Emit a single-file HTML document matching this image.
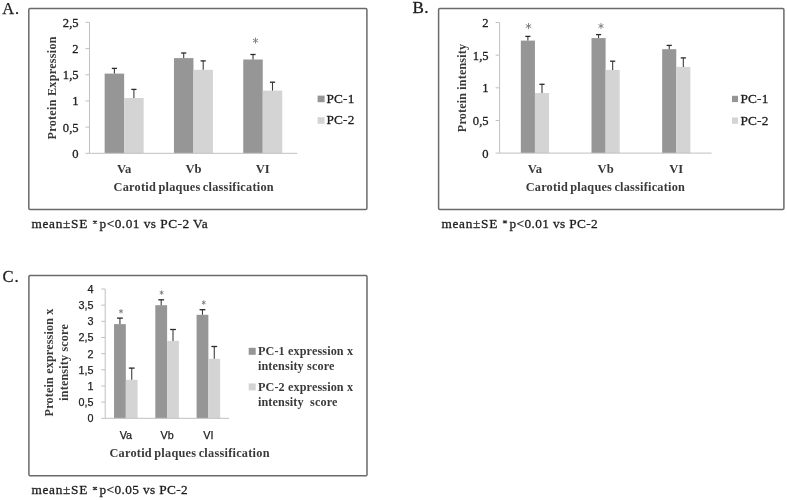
<!DOCTYPE html>
<html><head><meta charset="utf-8"><title>Figure</title>
<style>html,body{margin:0;padding:0;background:#fff;width:787px;height:500px;overflow:hidden}svg{display:block;filter:blur(0.45px)}</style>
</head><body>
<svg width="787" height="500" viewBox="0 0 787 500">
<rect width="787" height="500" fill="#fff"/>
<text x="2.2" y="13.8" font-family='"Liberation Serif", serif' font-size="16.5" text-anchor="start" fill="#1e1e1e" stroke="#1e1e1e" stroke-width="0.25" letter-spacing="0.8">A.</text>
<rect x="28.8" y="8.5" width="338.10" height="201.00" rx="1.2" fill="none" stroke="#6a6a6a" stroke-width="1.5"/>
<line x1="85.5" y1="153.30" x2="89.5" y2="153.30" stroke="#c0c0c0" stroke-width="1"/>
<line x1="85.5" y1="127.12" x2="89.5" y2="127.12" stroke="#c0c0c0" stroke-width="1"/>
<line x1="85.5" y1="100.94" x2="89.5" y2="100.94" stroke="#c0c0c0" stroke-width="1"/>
<line x1="85.5" y1="74.76" x2="89.5" y2="74.76" stroke="#c0c0c0" stroke-width="1"/>
<line x1="85.5" y1="48.58" x2="89.5" y2="48.58" stroke="#c0c0c0" stroke-width="1"/>
<line x1="85.5" y1="22.40" x2="89.5" y2="22.40" stroke="#c0c0c0" stroke-width="1"/>
<rect x="104.65" y="73.60" width="19.50" height="79.70" fill="#969696"/>
<line x1="114.40" y1="73.60" x2="114.40" y2="68.40" stroke="#3c3c3c" stroke-width="1.1"/>
<line x1="111.80" y1="68.40" x2="117.00" y2="68.40" stroke="#2a2a2a" stroke-width="1.3"/>
<rect x="124.15" y="98.00" width="19.50" height="55.30" fill="#d4d4d4"/>
<line x1="133.90" y1="98.00" x2="133.90" y2="89.40" stroke="#3c3c3c" stroke-width="1.1"/>
<line x1="131.30" y1="89.40" x2="136.50" y2="89.40" stroke="#2a2a2a" stroke-width="1.3"/>
<rect x="173.95" y="58.10" width="19.50" height="95.20" fill="#969696"/>
<line x1="183.70" y1="58.10" x2="183.70" y2="53.00" stroke="#3c3c3c" stroke-width="1.1"/>
<line x1="181.10" y1="53.00" x2="186.30" y2="53.00" stroke="#2a2a2a" stroke-width="1.3"/>
<rect x="193.45" y="69.80" width="19.50" height="83.50" fill="#d4d4d4"/>
<line x1="203.20" y1="69.80" x2="203.20" y2="60.90" stroke="#3c3c3c" stroke-width="1.1"/>
<line x1="200.60" y1="60.90" x2="205.80" y2="60.90" stroke="#2a2a2a" stroke-width="1.3"/>
<rect x="243.25" y="59.50" width="19.50" height="93.80" fill="#969696"/>
<line x1="253.00" y1="59.50" x2="253.00" y2="54.50" stroke="#3c3c3c" stroke-width="1.1"/>
<line x1="250.40" y1="54.50" x2="255.60" y2="54.50" stroke="#2a2a2a" stroke-width="1.3"/>
<rect x="262.75" y="90.60" width="19.50" height="62.70" fill="#d4d4d4"/>
<line x1="272.50" y1="90.60" x2="272.50" y2="82.20" stroke="#3c3c3c" stroke-width="1.1"/>
<line x1="269.90" y1="82.20" x2="275.10" y2="82.20" stroke="#2a2a2a" stroke-width="1.3"/>
<line x1="89.5" y1="22.40" x2="89.5" y2="153.30" stroke="#c0c0c0" stroke-width="1"/>
<line x1="89.5" y1="153.30" x2="297.4" y2="153.30" stroke="#c0c0c0" stroke-width="1"/>
<path d="M255.50,43.20L255.50,38.00M253.25,41.90L257.75,39.30M253.25,39.30L257.75,41.90" stroke="#7a7a7a" stroke-width="0.9" stroke-linecap="round" fill="none"/>
<text x="78.6" y="157.8" font-family='"Liberation Serif", serif' font-size="12.6" text-anchor="end" fill="#1e1e1e" stroke="#1e1e1e" stroke-width="0.3">0</text>
<text x="78.6" y="131.62" font-family='"Liberation Serif", serif' font-size="12.6" text-anchor="end" fill="#1e1e1e" stroke="#1e1e1e" stroke-width="0.3">0,5</text>
<text x="78.6" y="105.44000000000001" font-family='"Liberation Serif", serif' font-size="12.6" text-anchor="end" fill="#1e1e1e" stroke="#1e1e1e" stroke-width="0.3">1</text>
<text x="78.6" y="79.26000000000002" font-family='"Liberation Serif", serif' font-size="12.6" text-anchor="end" fill="#1e1e1e" stroke="#1e1e1e" stroke-width="0.3">1,5</text>
<text x="78.6" y="53.08000000000001" font-family='"Liberation Serif", serif' font-size="12.6" text-anchor="end" fill="#1e1e1e" stroke="#1e1e1e" stroke-width="0.3">2</text>
<text x="78.6" y="26.900000000000006" font-family='"Liberation Serif", serif' font-size="12.6" text-anchor="end" fill="#1e1e1e" stroke="#1e1e1e" stroke-width="0.3">2,5</text>
<text x="124.15" y="172.5" font-family='"Liberation Serif", serif' font-size="12.6" text-anchor="middle" fill="#383838" font-weight="bold">Va</text>
<text x="193.45" y="172.5" font-family='"Liberation Serif", serif' font-size="12.6" text-anchor="middle" fill="#383838" font-weight="bold">Vb</text>
<text x="262.75" y="172.5" font-family='"Liberation Serif", serif' font-size="12.6" text-anchor="middle" fill="#383838" font-weight="bold">VI</text>
<text x="193.75" y="190.7" font-family='"Liberation Serif", serif' font-size="12.3" text-anchor="middle" fill="#3a3a3a" letter-spacing="0.25" word-spacing="-1" font-weight="bold">Carotid plaques classification</text>
<text transform="translate(55.9,87.8) rotate(-90)" font-family='"Liberation Serif", serif' font-size="12.2" text-anchor="middle" fill="#3a3a3a" letter-spacing="0.25" font-weight="bold">Protein Expression</text>
<rect x="317.6" y="95.6" width="7" height="6.6" fill="#969696"/>
<rect x="317.6" y="117.2" width="7" height="6.6" fill="#d4d4d4"/>
<text x="326.5" y="102.6" font-family='"Liberation Serif", serif' font-size="13.3" text-anchor="start" fill="#1e1e1e" stroke="#1e1e1e" stroke-width="0.3" letter-spacing="0.15">PC-1</text>
<text x="326.5" y="124.4" font-family='"Liberation Serif", serif' font-size="13.3" text-anchor="start" fill="#1e1e1e" stroke="#1e1e1e" stroke-width="0.3" letter-spacing="0.15">PC-2</text>
<text x="31.4" y="228.1" font-family='"Liberation Serif", serif' font-size="13.3" text-anchor="start" fill="#1e1e1e" stroke="#1e1e1e" stroke-width="0.3" letter-spacing="0.72">mean±SE</text>
<path d="M92.85,221.00L97.05,223.40M92.85,223.40L97.05,221.00M94.95,220.50L94.95,223.90" stroke="#2a2a2a" stroke-width="1.05" fill="none"/>
<text x="99.6" y="228.1" font-family='"Liberation Serif", serif' font-size="13.3" text-anchor="start" fill="#1e1e1e" stroke="#1e1e1e" stroke-width="0.3" letter-spacing="0.48">p&lt;0.01 vs PC-2 Va</text>
<text x="412.6" y="13.3" font-family='"Liberation Serif", serif' font-size="17" text-anchor="start" fill="#1e1e1e" stroke="#1e1e1e" stroke-width="0.35" letter-spacing="0.2">B.</text>
<rect x="438.6" y="8.5" width="345.30" height="201.00" rx="1.2" fill="none" stroke="#6a6a6a" stroke-width="1.5"/>
<line x1="495.6" y1="153.10" x2="499.6" y2="153.10" stroke="#c0c0c0" stroke-width="1"/>
<line x1="495.6" y1="120.45" x2="499.6" y2="120.45" stroke="#c0c0c0" stroke-width="1"/>
<line x1="495.6" y1="87.80" x2="499.6" y2="87.80" stroke="#c0c0c0" stroke-width="1"/>
<line x1="495.6" y1="55.15" x2="499.6" y2="55.15" stroke="#c0c0c0" stroke-width="1"/>
<line x1="495.6" y1="22.50" x2="499.6" y2="22.50" stroke="#c0c0c0" stroke-width="1"/>
<rect x="520.83" y="40.60" width="14.10" height="112.50" fill="#969696"/>
<line x1="527.88" y1="40.60" x2="527.88" y2="36.40" stroke="#3c3c3c" stroke-width="1.1"/>
<line x1="525.28" y1="36.40" x2="530.48" y2="36.40" stroke="#2a2a2a" stroke-width="1.3"/>
<rect x="534.93" y="93.00" width="14.10" height="60.10" fill="#d4d4d4"/>
<line x1="541.98" y1="93.00" x2="541.98" y2="84.30" stroke="#3c3c3c" stroke-width="1.1"/>
<line x1="539.38" y1="84.30" x2="544.58" y2="84.30" stroke="#2a2a2a" stroke-width="1.3"/>
<rect x="591.50" y="38.10" width="14.10" height="115.00" fill="#969696"/>
<line x1="598.55" y1="38.10" x2="598.55" y2="34.60" stroke="#3c3c3c" stroke-width="1.1"/>
<line x1="595.95" y1="34.60" x2="601.15" y2="34.60" stroke="#2a2a2a" stroke-width="1.3"/>
<rect x="605.60" y="69.90" width="14.10" height="83.20" fill="#d4d4d4"/>
<line x1="612.65" y1="69.90" x2="612.65" y2="61.20" stroke="#3c3c3c" stroke-width="1.1"/>
<line x1="610.05" y1="61.20" x2="615.25" y2="61.20" stroke="#2a2a2a" stroke-width="1.3"/>
<rect x="662.17" y="49.20" width="14.10" height="103.90" fill="#969696"/>
<line x1="669.22" y1="49.20" x2="669.22" y2="45.40" stroke="#3c3c3c" stroke-width="1.1"/>
<line x1="666.62" y1="45.40" x2="671.82" y2="45.40" stroke="#2a2a2a" stroke-width="1.3"/>
<rect x="676.27" y="66.90" width="14.10" height="86.20" fill="#d4d4d4"/>
<line x1="683.32" y1="66.90" x2="683.32" y2="57.90" stroke="#3c3c3c" stroke-width="1.1"/>
<line x1="680.72" y1="57.90" x2="685.92" y2="57.90" stroke="#2a2a2a" stroke-width="1.3"/>
<line x1="499.6" y1="22.50" x2="499.6" y2="153.10" stroke="#c0c0c0" stroke-width="1"/>
<line x1="499.6" y1="153.10" x2="711.6" y2="153.10" stroke="#c0c0c0" stroke-width="1"/>
<path d="M528.50,28.80L528.50,23.40M526.16,27.45L530.84,24.75M526.16,24.75L530.84,27.45" stroke="#7a7a7a" stroke-width="0.9" stroke-linecap="round" fill="none"/>
<path d="M601.00,28.50L601.00,23.50M598.83,27.25L603.17,24.75M598.83,24.75L603.17,27.25" stroke="#7a7a7a" stroke-width="0.9" stroke-linecap="round" fill="none"/>
<text x="488.6" y="157.6" font-family='"Liberation Serif", serif' font-size="12.6" text-anchor="end" fill="#1e1e1e" stroke="#1e1e1e" stroke-width="0.3">0</text>
<text x="488.6" y="124.94999999999999" font-family='"Liberation Serif", serif' font-size="12.6" text-anchor="end" fill="#1e1e1e" stroke="#1e1e1e" stroke-width="0.3">0,5</text>
<text x="488.6" y="92.3" font-family='"Liberation Serif", serif' font-size="12.6" text-anchor="end" fill="#1e1e1e" stroke="#1e1e1e" stroke-width="0.3">1</text>
<text x="488.6" y="59.650000000000006" font-family='"Liberation Serif", serif' font-size="12.6" text-anchor="end" fill="#1e1e1e" stroke="#1e1e1e" stroke-width="0.3">1,5</text>
<text x="488.6" y="27.0" font-family='"Liberation Serif", serif' font-size="12.6" text-anchor="end" fill="#1e1e1e" stroke="#1e1e1e" stroke-width="0.3">2</text>
<text x="534.9333333333334" y="172.5" font-family='"Liberation Serif", serif' font-size="12.6" text-anchor="middle" fill="#383838" font-weight="bold">Va</text>
<text x="605.6" y="172.5" font-family='"Liberation Serif", serif' font-size="12.6" text-anchor="middle" fill="#383838" font-weight="bold">Vb</text>
<text x="676.2666666666667" y="172.5" font-family='"Liberation Serif", serif' font-size="12.6" text-anchor="middle" fill="#383838" font-weight="bold">VI</text>
<text x="605.4" y="191.2" font-family='"Liberation Serif", serif' font-size="12.3" text-anchor="middle" fill="#3a3a3a" letter-spacing="0.22" word-spacing="-1" font-weight="bold">Carotid plaques classification</text>
<text transform="translate(466,88) rotate(-90)" font-family='"Liberation Serif", serif' font-size="12.2" text-anchor="middle" fill="#3a3a3a" letter-spacing="0.13" font-weight="bold">Protein intensity</text>
<rect x="732" y="95.8" width="6" height="6.3" fill="#969696"/>
<rect x="732" y="117.5" width="6" height="6.3" fill="#d4d4d4"/>
<text x="740.5" y="102.8" font-family='"Liberation Serif", serif' font-size="13.3" text-anchor="start" fill="#1e1e1e" stroke="#1e1e1e" stroke-width="0.3" letter-spacing="0.15">PC-1</text>
<text x="740.5" y="124.5" font-family='"Liberation Serif", serif' font-size="13.3" text-anchor="start" fill="#1e1e1e" stroke="#1e1e1e" stroke-width="0.3" letter-spacing="0.15">PC-2</text>
<text x="441.4" y="227.8" font-family='"Liberation Serif", serif' font-size="13.3" text-anchor="start" fill="#1e1e1e" stroke="#1e1e1e" stroke-width="0.3" letter-spacing="0.72">mean±SE</text>
<path d="M502.85,220.70L507.05,223.10M502.85,223.10L507.05,220.70M504.95,220.20L504.95,223.60" stroke="#2a2a2a" stroke-width="1.05" fill="none"/>
<text x="509.59999999999997" y="227.8" font-family='"Liberation Serif", serif' font-size="13.3" text-anchor="start" fill="#1e1e1e" stroke="#1e1e1e" stroke-width="0.3" letter-spacing="0.37">p&lt;0.01 vs PC-2</text>
<text x="2.6" y="282.4" font-family='"Liberation Serif", serif' font-size="16.5" text-anchor="start" fill="#1e1e1e" stroke="#1e1e1e" stroke-width="0.3" letter-spacing="0.8">C.</text>
<rect x="28.9" y="275.5" width="338.10" height="200.30" rx="1.2" fill="none" stroke="#6a6a6a" stroke-width="1.5"/>
<line x1="101.2" y1="418.30" x2="105.2" y2="418.30" stroke="#c0c0c0" stroke-width="1"/>
<line x1="101.2" y1="402.14" x2="105.2" y2="402.14" stroke="#c0c0c0" stroke-width="1"/>
<line x1="101.2" y1="385.98" x2="105.2" y2="385.98" stroke="#c0c0c0" stroke-width="1"/>
<line x1="101.2" y1="369.81" x2="105.2" y2="369.81" stroke="#c0c0c0" stroke-width="1"/>
<line x1="101.2" y1="353.65" x2="105.2" y2="353.65" stroke="#c0c0c0" stroke-width="1"/>
<line x1="101.2" y1="337.49" x2="105.2" y2="337.49" stroke="#c0c0c0" stroke-width="1"/>
<line x1="101.2" y1="321.32" x2="105.2" y2="321.32" stroke="#c0c0c0" stroke-width="1"/>
<line x1="101.2" y1="305.16" x2="105.2" y2="305.16" stroke="#c0c0c0" stroke-width="1"/>
<line x1="101.2" y1="289.00" x2="105.2" y2="289.00" stroke="#c0c0c0" stroke-width="1"/>
<rect x="114.03" y="324.10" width="11.80" height="94.20" fill="#969696"/>
<line x1="119.93" y1="324.10" x2="119.93" y2="318.10" stroke="#3c3c3c" stroke-width="1.1"/>
<line x1="117.03" y1="318.10" x2="122.83" y2="318.10" stroke="#2a2a2a" stroke-width="1.3"/>
<rect x="125.83" y="379.80" width="11.80" height="38.50" fill="#d4d4d4"/>
<line x1="131.73" y1="379.80" x2="131.73" y2="368.10" stroke="#3c3c3c" stroke-width="1.1"/>
<line x1="128.83" y1="368.10" x2="134.63" y2="368.10" stroke="#2a2a2a" stroke-width="1.3"/>
<rect x="155.30" y="305.20" width="11.80" height="113.10" fill="#969696"/>
<line x1="161.20" y1="305.20" x2="161.20" y2="299.80" stroke="#3c3c3c" stroke-width="1.1"/>
<line x1="158.30" y1="299.80" x2="164.10" y2="299.80" stroke="#2a2a2a" stroke-width="1.3"/>
<rect x="167.10" y="340.90" width="11.80" height="77.40" fill="#d4d4d4"/>
<line x1="173.00" y1="340.90" x2="173.00" y2="329.50" stroke="#3c3c3c" stroke-width="1.1"/>
<line x1="170.10" y1="329.50" x2="175.90" y2="329.50" stroke="#2a2a2a" stroke-width="1.3"/>
<rect x="196.57" y="314.80" width="11.80" height="103.50" fill="#969696"/>
<line x1="202.47" y1="314.80" x2="202.47" y2="309.70" stroke="#3c3c3c" stroke-width="1.1"/>
<line x1="199.57" y1="309.70" x2="205.37" y2="309.70" stroke="#2a2a2a" stroke-width="1.3"/>
<rect x="208.37" y="358.80" width="11.80" height="59.50" fill="#d4d4d4"/>
<line x1="214.27" y1="358.80" x2="214.27" y2="346.50" stroke="#3c3c3c" stroke-width="1.1"/>
<line x1="211.37" y1="346.50" x2="217.17" y2="346.50" stroke="#2a2a2a" stroke-width="1.3"/>
<line x1="105.2" y1="289.00" x2="105.2" y2="418.30" stroke="#c0c0c0" stroke-width="1"/>
<line x1="105.2" y1="418.30" x2="229.0" y2="418.30" stroke="#c0c0c0" stroke-width="1"/>
<path d="M121.00,313.05L121.00,309.55M119.48,312.18L122.52,310.43M119.48,310.43L122.52,312.18" stroke="#7a7a7a" stroke-width="0.9" stroke-linecap="round" fill="none"/>
<path d="M161.60,294.35L161.60,290.85M160.08,293.48L163.12,291.73M160.08,291.73L163.12,293.48" stroke="#7a7a7a" stroke-width="0.9" stroke-linecap="round" fill="none"/>
<path d="M203.70,304.35L203.70,300.85M202.18,303.48L205.22,301.73M202.18,301.73L205.22,303.48" stroke="#7a7a7a" stroke-width="0.9" stroke-linecap="round" fill="none"/>
<text x="93.6" y="422.2" font-family='"Liberation Sans", sans-serif' font-size="10.8" text-anchor="end" fill="#1e1e1e" stroke="#1e1e1e" stroke-width="0.25">0</text>
<text x="93.6" y="406.03749999999997" font-family='"Liberation Sans", sans-serif' font-size="10.8" text-anchor="end" fill="#1e1e1e" stroke="#1e1e1e" stroke-width="0.25">0,5</text>
<text x="93.6" y="389.875" font-family='"Liberation Sans", sans-serif' font-size="10.8" text-anchor="end" fill="#1e1e1e" stroke="#1e1e1e" stroke-width="0.25">1</text>
<text x="93.6" y="373.7125" font-family='"Liberation Sans", sans-serif' font-size="10.8" text-anchor="end" fill="#1e1e1e" stroke="#1e1e1e" stroke-width="0.25">1,5</text>
<text x="93.6" y="357.54999999999995" font-family='"Liberation Sans", sans-serif' font-size="10.8" text-anchor="end" fill="#1e1e1e" stroke="#1e1e1e" stroke-width="0.25">2</text>
<text x="93.6" y="341.3875" font-family='"Liberation Sans", sans-serif' font-size="10.8" text-anchor="end" fill="#1e1e1e" stroke="#1e1e1e" stroke-width="0.25">2,5</text>
<text x="93.6" y="325.22499999999997" font-family='"Liberation Sans", sans-serif' font-size="10.8" text-anchor="end" fill="#1e1e1e" stroke="#1e1e1e" stroke-width="0.25">3</text>
<text x="93.6" y="309.0625" font-family='"Liberation Sans", sans-serif' font-size="10.8" text-anchor="end" fill="#1e1e1e" stroke="#1e1e1e" stroke-width="0.25">3,5</text>
<text x="93.6" y="292.9" font-family='"Liberation Sans", sans-serif' font-size="10.8" text-anchor="end" fill="#1e1e1e" stroke="#1e1e1e" stroke-width="0.25">4</text>
<text x="125.83333333333334" y="439.3" font-family='"Liberation Sans", sans-serif' font-size="10.8" text-anchor="middle" fill="#1e1e1e" stroke="#1e1e1e" stroke-width="0.25">Va</text>
<text x="167.1" y="439.3" font-family='"Liberation Sans", sans-serif' font-size="10.8" text-anchor="middle" fill="#1e1e1e" stroke="#1e1e1e" stroke-width="0.25">Vb</text>
<text x="208.36666666666667" y="439.3" font-family='"Liberation Sans", sans-serif' font-size="10.8" text-anchor="middle" fill="#1e1e1e" stroke="#1e1e1e" stroke-width="0.25">VI</text>
<text x="189.6" y="457.3" font-family='"Liberation Serif", serif' font-size="12.3" text-anchor="middle" fill="#3a3a3a" letter-spacing="0.25" word-spacing="-1" font-weight="bold">Carotid plaques classification</text>
<text transform="translate(53.3,362.4) rotate(-90)" font-family='"Liberation Serif", serif' font-size="12.2" text-anchor="middle" fill="#3a3a3a" letter-spacing="0.14" font-weight="bold">Protein expression x</text>
<text transform="translate(67.7,362.4) rotate(-90)" font-family='"Liberation Serif", serif' font-size="12.2" text-anchor="middle" fill="#3a3a3a" letter-spacing="0.14" font-weight="bold">intensity score</text>
<rect x="248.7" y="347.8" width="7" height="7" fill="#969696"/>
<rect x="248.7" y="383.4" width="7" height="7" fill="#d4d4d4"/>
<text x="257.9" y="354.9" font-family='"Liberation Serif", serif' font-size="12.2" text-anchor="start" fill="#3a3a3a" letter-spacing="0.12" font-weight="bold">PC-1 expression x</text>
<text x="257.9" y="369.5" font-family='"Liberation Serif", serif' font-size="12.2" text-anchor="start" fill="#3a3a3a" letter-spacing="0.14" font-weight="bold">intensity score</text>
<text x="257.9" y="390.5" font-family='"Liberation Serif", serif' font-size="12.2" text-anchor="start" fill="#3a3a3a" letter-spacing="0.12" font-weight="bold">PC-2 expression x</text>
<text x="257.9" y="405.6" font-family='"Liberation Serif", serif' font-size="12.2" text-anchor="start" fill="#3a3a3a" letter-spacing="0.13" font-weight="bold">intensity&#160; score</text>
<text x="31.4" y="494.4" font-family='"Liberation Serif", serif' font-size="13.3" text-anchor="start" fill="#1e1e1e" stroke="#1e1e1e" stroke-width="0.3" letter-spacing="0.72">mean±SE</text>
<path d="M92.85,487.30L97.05,489.70M92.85,489.70L97.05,487.30M94.95,486.80L94.95,490.20" stroke="#2a2a2a" stroke-width="1.05" fill="none"/>
<text x="99.6" y="494.4" font-family='"Liberation Serif", serif' font-size="13.3" text-anchor="start" fill="#1e1e1e" stroke="#1e1e1e" stroke-width="0.3" letter-spacing="0.37">p&lt;0.05 vs PC-2</text>
</svg>
</body></html>
